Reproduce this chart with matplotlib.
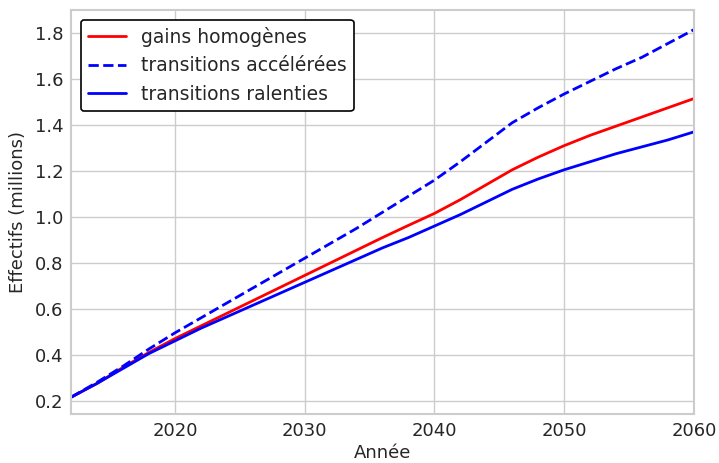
import matplotlib
matplotlib.use("Agg")
import matplotlib.pyplot as plt
import seaborn as sns

years = [2012, 2014, 2016, 2018, 2020, 2022, 2024, 2026, 2028, 2030, 2032, 2034, 2036,
         2038, 2040, 2042, 2044, 2046, 2048, 2050, 2052, 2054, 2056, 2058, 2060]
gains_homogenes = [0.215, 0.275, 0.345, 0.41, 0.47, 0.525, 0.58, 0.635, 0.69, 0.745, 0.8,
                   0.855, 0.91, 0.963, 1.015, 1.075, 1.14, 1.205, 1.26, 1.31, 1.355, 1.395,
                   1.435, 1.475, 1.515]
transitions_accelerees = [0.215, 0.28, 0.35, 0.425, 0.495, 0.56, 0.625, 0.69, 0.755, 0.82,
                          0.885, 0.95, 1.02, 1.09, 1.16, 1.24, 1.325, 1.41, 1.475, 1.535,
                          1.59, 1.645, 1.695, 1.755, 1.815]
transitions_ralenties = [0.215, 0.275, 0.34, 0.405, 0.46, 0.515, 0.565, 0.615, 0.665, 0.715,
                         0.765, 0.815, 0.865, 0.91, 0.96, 1.01, 1.065, 1.12, 1.165, 1.205,
                         1.24, 1.275, 1.305, 1.335, 1.37]

sns.set_theme(style="whitegrid", font_scale=1.2)
plt.rcParams['font.family'] = ['DejaVu Sans']

fig, ax = plt.subplots(figsize=(7.19, 4.63), dpi=100)
ax.plot(years, gains_homogenes, color="red", lw=2, label="gains homogènes")
ax.plot(years, transitions_accelerees, color="blue", lw=2, ls="--", label="transitions accélérées")
ax.plot(years, transitions_ralenties, color="blue", lw=2, label="transitions ralenties")

ax.set_xlim(2012, 2060)
ax.set_ylim(0.14, 1.9)
ax.set_xticks([2020, 2030, 2040, 2050, 2060])
ax.set_yticks([0.2, 0.4, 0.6, 0.8, 1.0, 1.2, 1.4, 1.6, 1.8])
ax.tick_params(axis="both", length=0, pad=5.5, labelsize=13)
ax.set_xlabel("Année", fontsize=13, labelpad=3)
ax.set_ylabel("Effectifs (millions)", fontsize=13, labelpad=6)
leg = ax.legend(loc="upper left", frameon=True, edgecolor="black", framealpha=1, fontsize=13.5)
leg.get_frame().set_linewidth(1.2)
for s in ax.spines.values():
    s.set_color("#cccccc")
    s.set_linewidth(1.5)

fig.subplots_adjust(left=0.099, right=0.965, bottom=0.105, top=0.978)
fig.savefig("out.png", dpi=100)
